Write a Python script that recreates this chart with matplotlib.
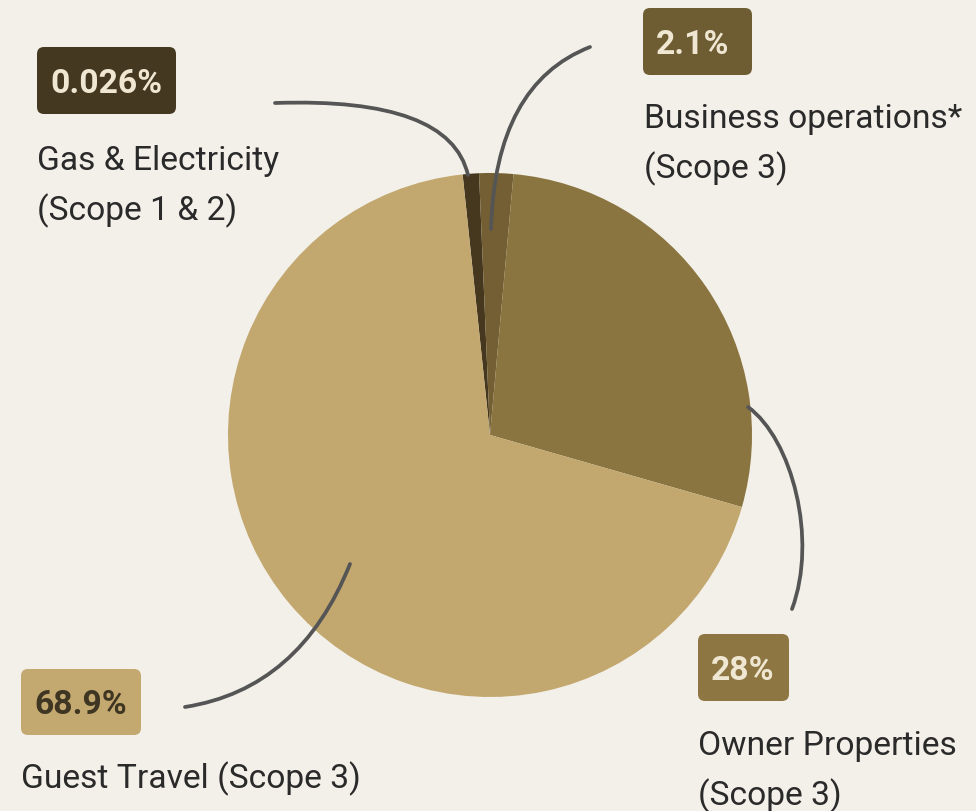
import matplotlib.pyplot as plt
from matplotlib.patches import FancyBboxPatch, PathPatch
from matplotlib.path import Path

# ----- data -----
CATEGORIES = ["Gas & Electricity\n(Scope 1 & 2)",
              "Business operations*\n(Scope 3)",
              "Owner Properties\n(Scope 3)",
              "Guest Travel (Scope 3)"]
VALUE_LABELS = ["0.026%", "2.1%", "28%", "68.9%"]
# drawn slice shares (the tiny gas slice is drawn wider than its value)
SHARES = [1.0, 2.1, 28.0, 68.9]

WEDGE_COLORS = ["#46381f", "#735f33", "#8a7541", "#c2a86f"]
BOX_COLORS = ["#453820", "#6e5c33", "#8e7642", "#c3a96f"]
BOX_TEXT = ["#efe7d2", "#efe7d2", "#efe7d2", "#3e3522"]

BG = "#f3f0e9"
LINE = "#555555"
W, H = 976, 812

# box rectangles (image px: x, y_top, w, h)
BOXES = [(37, 48, 139, 67), (643, 9, 109, 67), (698, 635, 91, 67), (21, 670, 120, 66)]
# label baselines for each line (image px)
LABEL_POS = [(37, [170, 220]), (644, [128, 178]), (698, [755, 805]), (21, [788])]

# connector curves (image px)
CONNECTORS = [
    [(275, 104), (450, 98), (468, 176)],
    [(590, 48), (495, 85), (491, 230)],
    [(748, 408), (792, 440), (818, 540), (792, 610)],
    [(350, 565), (300, 690), (185, 708)],
]


def fy(y):
    return H - y


fig = plt.figure(figsize=(W / 100, H / 100), dpi=100, facecolor=BG)
ax = fig.add_axes([0, 0, 1, 1])
ax.set_facecolor(BG)

ax.pie(SHARES, colors=WEDGE_COLORS, startangle=96, counterclock=False,
       center=(490, fy(436)), radius=262, frame=True,
       wedgeprops={"linewidth": 0})

for pts in CONNECTORS:
    verts = [(x, fy(y)) for x, y in pts]
    if len(verts) == 3:
        codes = [Path.MOVETO, Path.CURVE3, Path.CURVE3]
    else:
        codes = [Path.MOVETO, Path.CURVE4, Path.CURVE4, Path.CURVE4]
    ax.add_patch(PathPatch(Path(verts, codes), facecolor="none", edgecolor=LINE,
                           linewidth=2.7, capstyle="round", zorder=5))

for i, (bx, by, bw, bh) in enumerate(BOXES):
    ax.add_patch(FancyBboxPatch((bx, fy(by + bh)), bw, bh,
                                boxstyle="round,pad=0,rounding_size=7",
                                facecolor=BOX_COLORS[i], edgecolor="none", zorder=4))
    ax.text(bx + 13, fy(by + bh / 2 + 11.5), VALUE_LABELS[i], fontsize=24.3,
            fontweight="bold", family="Roboto", color=BOX_TEXT[i],
            ha="left", va="baseline", zorder=6)

for i, (lx, ys) in enumerate(LABEL_POS):
    for line, y in zip(CATEGORIES[i].split("\n"), ys):
        ax.text(lx, fy(y), line, fontsize=24.2, family="Roboto", color="#2a2a2a",
                ha="left", va="baseline")

ax.set_xlim(0, W)
ax.set_ylim(0, H)
ax.set_aspect("equal")
ax.axis("off")

fig.savefig("out.png", dpi=100, facecolor=BG)
